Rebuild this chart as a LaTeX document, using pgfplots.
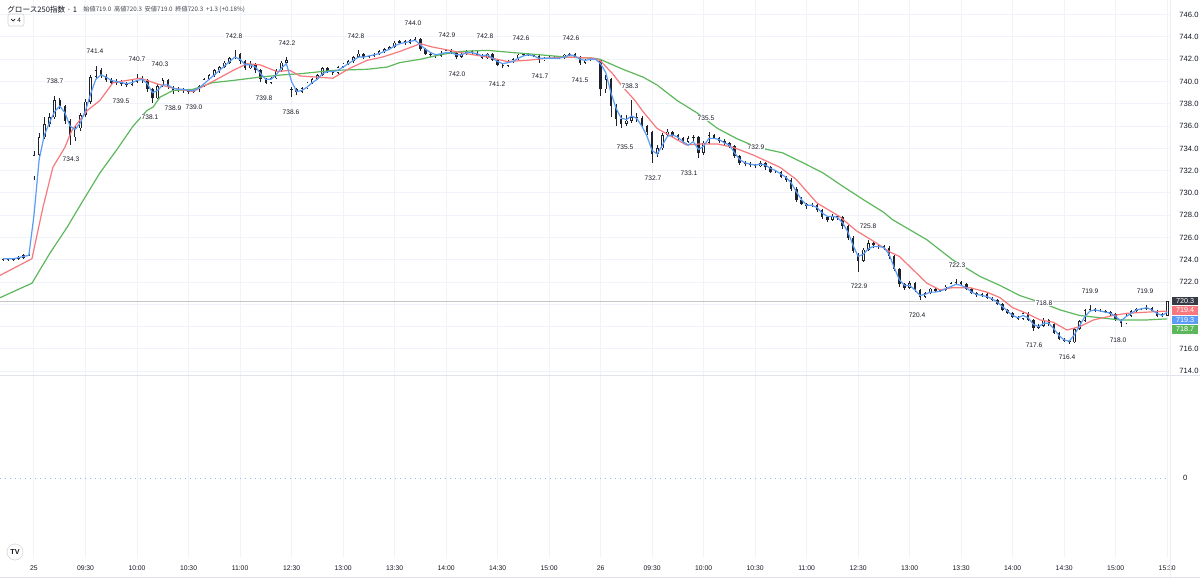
\documentclass[border=0pt]{standalone}
\usepackage{fontspec}
\setmainfont{Liberation Sans}
\newfontfamily\cjk{Noto Sans CJK JP}
\usepackage{pgfplots}
\pgfplotsset{compat=1.18}
\usepackage{pgfplotstable}
\definecolor{gridc}{HTML}{F0F3FA}
\definecolor{txt}{HTML}{131722}
\definecolor{maR}{HTML}{F7797D}
\definecolor{maG}{HTML}{5DB85C}
\definecolor{maB}{HTML}{5B9CF6}
\definecolor{sepc}{HTML}{E0E3EB}
\definecolor{lastc}{HTML}{363A45}
\definecolor{dotc}{HTML}{90B4F8}
\definecolor{candle}{HTML}{1E222D}

% 3-minute candles: m = minutes from 09:00 on the 25th (sessions joined)
\pgfplotstableread{
m o h l c b
-18 724.0 724.2 723.9 724.1 724.1
-15 724.1 724.2 723.9 724.0 724.1
-12 724.0 724.2 723.9 724.1 724.1
-9 724.1 724.3 724.0 724.2 724.2
-6 724.2 724.5 724.1 724.4 724.3
-3 724.4 724.5 724.3 724.4 724.4
0 731.5 733.8 731.2 733.4 728.0
3 733.4 735.4 733.0 735.0 733.0
6 735.0 736.8 734.8 736.2 735.2
9 736.2 737.2 735.9 736.8 736.3
12 736.8 738.7 736.6 738.3 737.3
15 738.3 738.5 737.5 737.8 737.8
18 737.8 737.9 736.2 736.5 737.2
21 736.5 736.6 734.3 735.0 736.0
24 735.0 736.0 734.7 735.8 735.7
27 735.8 737.2 735.6 737.0 736.3
30 737.0 738.4 736.8 738.2 737.4
33 738.2 740.6 738.0 740.4 738.9
36 740.4 741.4 740.2 741.0 740.2
39 741.0 741.2 740.3 740.5 740.6
42 740.5 740.7 740.0 740.1 740.4
45 740.1 740.3 739.7 739.9 740.1
48 739.9 740.2 739.7 740.0 740.0
51 740.0 740.1 739.6 739.8 739.9
54 739.8 740.0 739.5 739.7 739.8
57 739.7 740.2 739.6 740.0 739.9
60 740.0 740.7 739.9 740.3 740.1
63 740.3 740.5 739.9 740.1 740.2
66 740.1 740.2 739.1 739.3 739.8
69 739.3 739.4 738.1 738.5 739.0
72 738.5 739.8 738.4 739.6 739.2
75 739.6 740.3 739.5 740.1 739.7
78 740.1 740.2 739.3 739.5 739.7
81 739.5 739.6 738.9 739.2 739.4
84 739.2 739.5 739.1 739.3 739.3
87 739.3 739.4 739.0 739.2 739.3
90 739.2 739.3 738.9 739.1 739.2
93 739.1 739.3 739.0 739.2 739.2
96 739.2 739.7 739.1 739.6 739.4
99 739.6 740.3 739.5 740.2 739.8
102 740.2 740.7 740.1 740.6 740.2
105 740.6 741.1 740.4 741.0 740.6
108 741.0 741.4 740.8 741.3 741.0
111 741.3 741.8 741.2 741.7 741.4
114 741.7 742.2 741.6 742.1 741.8
117 742.1 742.8 742.0 742.5 742.2
120 742.5 742.6 741.6 741.8 742.0
123 741.8 741.9 741.0 741.2 741.5
126 741.2 741.8 741.1 741.6 741.5
129 741.6 741.7 740.8 741.0 741.3
132 741.0 741.1 740.0 740.2 740.7
135 740.2 740.3 739.8 739.9 740.2
138 739.9 740.4 739.8 740.3 740.2
141 740.3 741.1 740.2 741.0 740.6
144 741.0 741.8 740.9 741.7 741.2
147 741.7 742.2 741.6 741.9 741.6
150 739.2 739.5 738.6 739.3 740.0
153 739.3 739.4 738.8 739.1 739.1
156 739.1 739.5 739.0 739.4 739.2
159 739.4 740.0 739.3 739.9 739.5
162 739.9 740.3 739.8 740.2 739.9
165 740.2 740.7 740.1 740.6 740.2
168 740.6 741.3 740.5 741.2 740.7
171 741.2 741.3 740.8 740.9 740.9
174 740.9 741.0 740.6 740.8 740.9
177 740.8 741.4 740.7 741.3 741.0
180 741.3 741.7 741.2 741.6 741.3
183 741.6 741.9 741.5 741.8 741.6
186 741.8 742.3 741.7 742.2 741.9
189 742.2 742.8 742.1 742.5 742.2
192 742.5 742.6 742.0 742.2 742.2
195 742.2 742.4 742.1 742.3 742.3
198 742.3 742.6 742.2 742.5 742.4
201 742.5 742.8 742.4 742.7 742.5
204 742.7 743.0 742.6 742.9 742.7
207 742.9 743.2 742.8 743.1 742.9
210 743.1 743.6 743.0 743.5 743.2
213 743.5 743.7 743.4 743.6 743.4
216 743.6 743.7 743.3 743.5 743.5
219 743.5 743.8 743.4 743.7 743.6
222 743.7 744.0 743.6 743.8 743.7
225 743.8 743.9 742.7 742.9 743.3
228 742.9 743.0 742.4 742.5 742.9
231 742.5 742.6 742.2 742.4 742.6
234 742.4 742.5 742.1 742.3 742.4
237 742.3 742.7 742.2 742.6 742.5
240 742.6 742.9 742.5 742.8 742.6
243 742.8 742.9 742.5 742.6 742.6
246 742.6 742.7 742.0 742.2 742.4
249 742.2 742.6 742.1 742.5 742.4
252 742.5 742.8 742.4 742.7 742.6
255 742.7 742.8 742.5 742.6 742.6
258 742.6 742.7 742.3 742.4 742.5
261 742.4 742.5 742.0 742.1 742.3
264 742.1 742.6 742.0 742.5 742.4
267 742.5 742.6 741.8 741.9 742.1
270 741.9 742.0 741.4 741.5 741.8
273 741.5 741.6 741.2 741.4 741.6
276 741.4 741.9 741.3 741.8 741.7
279 741.8 742.1 741.7 742.0 741.8
282 742.0 742.5 741.9 742.4 742.1
285 742.4 742.6 742.3 742.5 742.3
288 742.5 742.6 742.3 742.4 742.4
291 742.4 742.5 742.2 742.3 742.3
294 742.3 742.4 741.7 741.9 742.1
297 741.9 742.2 741.8 742.1 742.1
300 742.1 742.3 742.0 742.1 742.1
303 742.1 742.3 742.0 742.2 742.1
306 742.2 742.3 742.0 742.1 742.1
309 742.1 742.5 742.0 742.4 742.2
312 742.4 742.6 742.3 742.5 742.4
315 742.5 742.6 742.1 742.2 742.3
318 742.2 742.3 741.5 741.7 742.0
321 741.7 742.0 741.6 741.9 741.9
324 741.9 742.1 741.8 742.0 742.0
327 742.0 742.1 741.9 742.0 742.0
330 741.9 742.0 738.7 739.3 741.6
333 739.3 740.6 739.0 740.2 740.8
336 740.2 740.3 736.8 737.8 739.0
339 737.8 738.0 736.0 736.6 737.6
342 736.6 737.0 735.8 736.2 736.7
345 736.2 737.0 736.0 736.5 736.6
348 736.5 738.3 736.3 736.8 736.9
351 736.8 737.2 736.4 736.7 736.7
354 736.7 736.9 735.8 736.0 736.0
357 736.0 736.1 735.2 735.5 735.1
360 735.5 735.6 732.7 733.5 733.8
363 733.5 734.3 733.2 734.0 733.5
366 734.0 735.4 733.9 735.2 734.3
369 735.2 735.7 735.0 735.5 735.1
372 735.5 735.6 735.0 735.2 735.2
375 735.2 735.3 734.7 734.9 735.0
378 734.9 735.0 734.4 734.6 734.6
381 734.6 735.1 734.5 734.9 734.3
384 734.9 735.2 734.7 735.0 734.6
387 735.0 735.1 733.1 733.6 733.9
390 733.6 734.7 733.4 734.5 734.2
393 734.5 735.5 734.4 735.2 734.9
396 735.2 735.3 734.8 734.9 734.9
399 734.9 735.0 734.5 734.7 734.8
402 734.7 734.8 734.3 734.5 734.5
405 734.5 734.6 734.0 734.2 734.3
408 734.2 734.3 733.1 733.3 733.6
411 733.3 733.4 732.5 732.7 733.0
414 732.7 732.9 732.4 732.6 732.7
417 732.6 732.8 732.3 732.5 732.6
420 732.5 732.6 732.2 732.4 732.5
423 732.4 732.9 732.3 732.7 732.6
426 732.7 732.8 732.1 732.3 732.5
429 732.3 732.4 731.8 731.9 732.2
432 731.9 732.1 731.8 731.9 732.0
435 731.9 732.0 731.3 731.4 731.7
438 731.4 731.5 731.0 731.2 731.4
441 731.2 731.3 730.2 730.4 730.9
444 730.4 730.5 729.2 729.4 730.1
447 729.4 729.6 728.9 729.0 729.4
450 729.0 729.1 728.6 728.8 728.9
453 728.8 729.1 728.7 728.9 728.9
456 728.9 729.0 728.3 728.5 728.7
459 728.5 728.6 727.7 727.8 728.2
462 727.8 727.9 727.4 727.6 727.9
465 727.6 728.1 727.5 727.9 727.9
468 727.9 728.0 727.6 727.8 727.8
471 727.8 727.9 726.8 727.0 727.3
474 727.0 727.1 725.8 726.0 726.5
477 726.0 726.1 724.6 724.8 725.3
480 724.3 724.6 722.9 723.9 724.3
483 723.9 725.1 723.8 724.9 724.5
486 724.9 725.8 724.8 725.5 725.0
489 725.5 725.6 725.1 725.3 725.2
492 725.3 725.4 725.0 725.2 725.2
495 725.2 725.3 724.9 725.1 725.1
498 725.1 725.2 724.1 724.3 724.5
501 724.3 724.4 723.0 723.2 723.3
504 723.2 723.3 721.6 721.8 722.2
507 721.8 721.9 721.3 721.5 721.7
510 721.5 722.1 721.4 721.9 721.7
513 721.9 722.0 721.1 721.3 721.3
516 721.3 721.4 720.4 720.7 720.8
519 720.7 721.1 720.6 721.0 720.9
522 721.0 721.5 720.9 721.4 721.1
525 721.4 721.5 721.1 721.2 721.1
528 721.2 721.4 721.1 721.3 721.2
531 721.3 721.7 721.2 721.6 721.4
534 721.6 722.0 721.5 721.9 721.6
537 721.9 722.3 721.8 722.0 721.8
540 722.0 722.1 721.7 721.8 721.7
543 721.8 721.9 721.3 721.4 721.5
546 721.4 721.5 720.9 721.0 721.1
549 721.0 721.1 720.7 720.8 720.9
552 720.8 721.0 720.7 720.9 720.8
555 720.9 721.0 720.5 720.6 720.7
558 720.6 720.7 720.3 720.4 720.5
561 720.4 720.5 719.9 720.0 720.2
564 720.0 720.1 719.4 719.5 719.8
567 719.5 719.6 719.1 719.2 719.4
570 719.2 719.3 718.8 718.9 719.0
573 718.9 719.0 718.6 718.7 718.8
576 718.7 719.3 718.6 719.2 719.0
579 719.2 719.3 718.5 718.6 718.8
582 718.6 718.7 717.6 717.9 718.2
585 717.9 718.2 717.8 718.1 718.0
588 718.1 718.8 718.0 718.6 718.3
591 718.6 718.7 718.1 718.2 718.3
594 718.2 718.3 717.3 717.4 717.8
597 717.4 717.5 716.8 716.9 717.2
600 716.9 717.0 716.6 716.7 716.8
603 716.7 716.8 716.4 716.6 716.7
606 716.6 717.9 716.5 717.8 717.3
609 717.8 718.6 717.7 718.5 718.1
612 718.5 719.6 718.4 719.5 718.9
615 719.5 719.9 719.4 719.6 719.4
618 719.6 719.7 719.3 719.4 719.5
621 719.4 719.6 719.3 719.4 719.4
624 719.4 719.5 719.2 719.3 719.3
627 719.3 719.4 719.0 719.1 719.2
630 719.1 719.2 718.5 718.6 718.9
633 718.6 718.7 718.0 718.3 718.5
636 718.3 719.1 718.2 719.0 718.9
639 719.0 719.5 718.9 719.4 719.2
642 719.4 719.7 719.3 719.6 719.5
645 719.6 719.7 719.5 719.6 719.6
648 719.6 719.9 719.5 719.7 719.7
651 719.7 719.8 719.3 719.4 719.5
654 719.4 719.5 718.9 719.0 719.2
657 719.0 719.2 718.9 719.1 719.0
660 719.0 720.3 719.0 720.3 719.3
}\candles

% red moving average
\pgfplotstableread{
m v
-19.8 722.6
-1.2 724.1
5.2 728.7
11 732.3
18 734.1
22 735.6
31 737.4
38.4 738.3
46 739.9
54 740.1
62 740.3
71.6 739.8
81 739.4
92.6 739.1
104 740.0
116 741.0
124 741.6
131.6 741.5
141.5 740.9
149 741.0
155 740.5
174 740.3
184 741.2
194 741.9
203 742.2
213 742.7
225 743.4
232 743.1
242 742.8
252 742.5
264 742.2
275.5 741.8
287 741.9
299 742.1
310 742.2
325.6 742.1
329.6 741.9
337 740.7
343 739.5
350 738.3
354.7 737.3
362.8 735.8
372 735.0
380 734.3
388 734.4
398 734.4
407 734.1
419 733.4
424.6 733.0
434.5 732.3
444 731.2
456 729.1
469 727.9
479 726.6
488.6 725.7
498.5 724.7
504 724.3
512 723.1
520 721.9
527.6 721.3
535 721.5
545 721.5
555 721.1
562.6 720.6
570 719.7
578 719.2
586 718.6
593.5 718.4
601.6 717.7
609 718.0
617 718.6
628.4 719.0
636.6 719.2
648 719.3
660 719.4
}\maRed

% green moving average
\pgfplotstableread{
m v
-19.8 720.6
-1.2 721.9
9.3 724.6
19.2 726.9
28.5 729.3
38.4 731.8
48.3 733.9
57.7 736.0
65.8 737.4
69.3 737.7
73.4 738.6
81 739.2
92.6 739.3
104 739.9
116 740.1
131.6 740.4
145 740.6
155 740.7
174 741.0
194 741.1
205.6 741.3
213 741.7
225 742.0
236.5 742.4
248 742.7
264 742.8
279 742.6
294.7 742.4
310 742.2
325.6 742.1
329.6 742.0
343 741.1
354.7 740.4
362.8 739.7
374.5 738.3
386 737.2
398 735.8
409 734.9
421 734.1
436 733.6
448 732.7
459.5 731.8
471 730.6
483 729.4
494.5 728.3
500 727.6
520 725.8
535 724.0
551 722.5
562.6 721.7
574 720.8
587.6 720.1
597.6 719.5
609 719.0
621 718.8
632.5 718.6
648 718.6
660 718.7
}\maGreen

\newcommand{\lbl}[3]{\node[font=\fontsize{3.3}{4}\selectfont, text=txt, fill=white, inner sep=0.5pt] at ({#1*0.5pt},{290pt-#2*0.5pt}) {#3};}

\begin{document}
\begin{tikzpicture}
\useasboundingbox[fill=white] (0,0) rectangle (600pt,290pt);

\begin{axis}[at={(0pt,290pt)}, anchor=north west, scale only axis,
  width=585pt, height=187.5pt,
  xmin=-19.8, xmax=661.6, ymin=713.66, ymax=747.32,
  axis line style={draw=none}, major tick length=0pt,
  xtick={0,30,...,660}, xticklabels={},
  ytick={714,716,...,746},
  yticklabels={714.0,716.0,{},{},722.0,724.0,726.0,728.0,730.0,732.0,734.0,736.0,738.0,740.0,742.0,744.0,746.0},
  yticklabel pos=right,
  xmajorgrids, ymajorgrids, grid style={color=gridc, line width=0.5pt},
  yticklabel style={font=\fontsize{3.8}{4}\selectfont, text=txt, anchor=west, xshift=1.2pt},
  clip=true]
% last price line
\addplot[color=gray!45, line width=0.45pt, forget plot] coordinates {(-19.8,720.3) (661.6,720.3)};
% wicks
\addplot[draw=none, mark=none, forget plot,
  error bars/.cd, y dir=both, y explicit, error mark=none,
  error bar style={draw=candle, line width=0.3pt}]
  table[x=m, y=c, y error plus expr=\thisrow{h}-\thisrow{c}, y error minus expr=\thisrow{c}-\thisrow{l}] {\candles};
% bodies
\addplot[draw=none, mark=none, forget plot,
  error bars/.cd, y dir=both, y explicit, error mark=none,
  error bar style={draw=candle, line width=1.25pt}]
  table[x=m, y=c, y error plus expr={max(\thisrow{o}-\thisrow{c},0)}, y error minus expr={max(\thisrow{c}-\thisrow{o},0)}] {\candles};
% hollow up bodies
\addplot[draw=none, mark=none, forget plot,
  error bars/.cd, y dir=both, y explicit, error mark=none,
  error bar style={draw=white, line width=0.6pt}]
  table[x=m, y expr=\thisrow{c}-0.06, y error plus expr=0, y error minus expr={max(\thisrow{c}-\thisrow{o}-0.12,0)}] {\candles};
% moving averages
\addplot[color=maG, line width=0.6pt, mark=none] table[x=m, y=v] {\maGreen};
\addplot[color=maR, line width=0.6pt, mark=none] table[x=m, y=v] {\maRed};
\addplot[color=maB, line width=0.6pt, mark=none] table[x=m, y=b] {\candles};
\end{axis}

\begin{axis}[at={(0pt,102.5pt)}, anchor=north west, scale only axis,
  width=585pt, height=91pt,
  xmin=-19.8, xmax=661.6, ymin=-1, ymax=1.304,
  axis line style={draw=none}, major tick length=0pt,
  xtick={0,30,...,660},
  xticklabels={25,09:30,10:00,10:30,11:00,12:30,13:00,13:30,14:00,14:30,15:00,26,09:30,10:00,10:30,11:00,12:30,13:00,13:30,14:00,14:30,15:00,15:30},
  xticklabel style={font=\fontsize{3.4}{4}\selectfont, text=txt, yshift=-0.6pt},
  ytick={0}, yticklabels={0}, yticklabel pos=right,
  yticklabel style={font=\fontsize{3.8}{4}\selectfont, text=txt, anchor=west, xshift=3pt},
  xmajorgrids, grid style={color=gridc, line width=0.5pt},
  clip=true]
\addplot[color=dotc, line width=0.5pt, dotted, mark=none] coordinates {(-19.8,0) (661.6,0)};
\end{axis}

% pane separators
\draw[sepc, line width=0.5pt] (0,{290pt-375*0.5pt}) -- (600pt,{290pt-375*0.5pt});
\draw[sepc, line width=0.5pt] (0,{290pt-577*0.5pt}) -- (600pt,{290pt-577*0.5pt});
\draw[sepc!60, line width=0.4pt] (585pt,{290pt-577*0.5pt}) -- (585pt,290pt);

% header
\node[anchor=west, font=\cjk\fontsize{3.8}{5}\selectfont, text=txt, inner sep=0] at (3.5pt,{290pt-10*0.5pt}) {グロース250指数 · 1};
\node[anchor=west, font=\cjk\fontsize{3.1}{4}\selectfont, text=txt!80, inner sep=0] at (41.5pt,{290pt-10*0.5pt}) {始値719.0\ \ 高値720.3\ \ 安値719.0\ \ 終値720.3\ \ +1.3 (+0.18\%)};
\draw[gray!35, line width=0.3pt, rounded corners=1pt] (4pt,{290pt-14*0.5pt}) rectangle (12pt,{290pt-26*0.5pt});
\draw[txt, line width=0.35pt] (5.6pt,{290pt-19*0.5pt}) -- (6.6pt,{290pt-21*0.5pt}) -- (7.6pt,{290pt-19*0.5pt});
\node[font=\fontsize{3.2}{4}\selectfont, text=txt, inner sep=0] at (9.6pt,{290pt-20*0.5pt}) {4};

% TV logo
\node[circle, draw=gray!25, fill=white, minimum size=8pt, inner sep=0, font=\bfseries\fontsize{3.6}{4}\selectfont, text=txt] at (7.5pt,{290pt-552*0.5pt}) {TV};

% last value boxes
\node[fill=lastc, text=white, font=\fontsize{3.6}{4}\selectfont, minimum width=13pt, minimum height=4.3pt, inner sep=0] at (592.5pt,{290pt-301*0.5pt}) {720.3};
\node[fill=maR, text=white, font=\fontsize{3.6}{4}\selectfont, minimum width=13pt, minimum height=4.3pt, inner sep=0] at (592.5pt,{290pt-310.5*0.5pt}) {719.4};
\node[fill=maB, text=white, font=\fontsize{3.6}{4}\selectfont, minimum width=13pt, minimum height=4.3pt, inner sep=0] at (592.5pt,{290pt-320*0.5pt}) {719.3};
\node[fill=maG, text=white, font=\fontsize{3.6}{4}\selectfont, minimum width=13pt, minimum height=4.3pt, inner sep=0] at (592.5pt,{290pt-329.5*0.5pt}) {718.7};

% high / low annotations
\lbl{55}{81}{738.7}
\lbl{71}{159}{734.3}
\lbl{95}{51}{741.4}
\lbl{137}{59}{740.7}
\lbl{121}{101}{739.5}
\lbl{160}{64}{740.3}
\lbl{150}{117}{738.1}
\lbl{173}{108}{738.9}
\lbl{194}{107}{739.0}
\lbl{234}{36}{742.8}
\lbl{264}{98}{739.8}
\lbl{287}{43}{742.2}
\lbl{291}{112}{738.6}
\lbl{356}{36}{742.8}
\lbl{413}{23}{744.0}
\lbl{447}{35}{742.9}
\lbl{457}{74}{742.0}
\lbl{485}{36}{742.8}
\lbl{497}{84}{741.2}
\lbl{521}{38}{742.6}
\lbl{540}{76}{741.7}
\lbl{571}{38}{742.6}
\lbl{580}{80}{741.5}
\lbl{630}{86}{738.3}
\lbl{625}{147}{735.5}
\lbl{706}{118}{735.5}
\lbl{653}{178}{732.7}
\lbl{689}{173}{733.1}
\lbl{756}{147}{732.9}
\lbl{868}{226}{725.8}
\lbl{859}{286}{722.9}
\lbl{957}{265}{722.3}
\lbl{917}{315}{720.4}
\lbl{1044}{303}{718.8}
\lbl{1034}{345}{717.6}
\lbl{1067}{357}{716.4}
\lbl{1090}{291}{719.9}
\lbl{1118}{340}{718.0}
\lbl{1145}{291}{719.9}
\end{tikzpicture}
\end{document}
